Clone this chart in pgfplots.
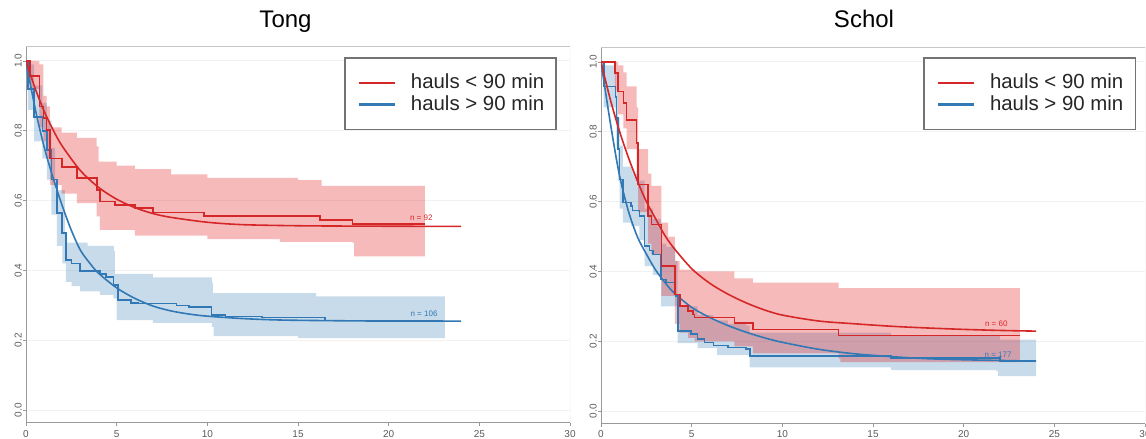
\documentclass[border=0pt]{standalone}
\usepackage{pgfplots}
\pgfplotsset{compat=1.18}
\usepgfplotslibrary{fillbetween}
\usepackage{fontspec}
\setmainfont{Liberation Sans}
\definecolor{kmred}{RGB}{214,39,40}
\definecolor{kmblue}{RGB}{49,120,180}
\definecolor{bandred}{RGB}{228,26,28}
\definecolor{bandblue}{RGB}{55,126,184}
\definecolor{ticktext}{RGB}{90,90,90}

\pgfplotsset{
  kmstyle/.style={
    scale only axis,
    xmin=0, xmax=30, ymin=-0.037, ymax=1.04,
    axis lines*=left,
    axis line style={draw=gray!80, line width=0.5pt},
    xtick={0,5,10,15,20,25,30},
    xticklabels={0,5,10,15,20,25,30},
    ytick={0,0.2,0.4,0.6,0.8,1.0},
    yticklabels={0.0,0.2,0.4,0.6,0.8,1.0},
    tick align=outside,
    major tick length=1.5pt,
    tick style={draw=gray!80, line width=0.4pt},
    ymajorgrids,
    grid style={draw=gray!10, line width=0.5pt},
    ticklabel style={font=\fontsize{5}{6}\selectfont, text=ticktext},
    yticklabel style={rotate=90, anchor=south, inner sep=0.5pt},
    xticklabel style={inner sep=2.3pt},
    legend style={anchor=north east, draw=gray!90!black, line width=0.75pt, fill=white,
      font=\fontsize{10.2}{10.5}\selectfont, text=black!85,
      inner xsep=4pt, inner ysep=6pt, row sep=-2pt, cells={anchor=west}},
    legend image code/.code={\path[draw=none] (0pt,0pt) -- (27pt,0pt); \draw[#1, line width=1.1pt] (3pt,0pt) -- (21pt,0pt);},
    km/.style={const plot mark left, line width=0.8pt, forget plot},
    fit/.style={smooth, line width=0.8pt, forget plot},
  }
}

\begin{document}
\begin{tikzpicture}

% ---------------- Tong ----------------
\begin{axis}[kmstyle, at={(13pt,8pt)}, anchor=south west, width=272pt, height=188pt,
  legend style={at={(0.976,0.973)}}]
\addlegendimage{kmred, line width=1.1pt}
\addlegendentry{hauls < 90 min}
\addlegendimage{kmblue, line width=1.1pt}
\addlegendentry{hauls > 90 min}

% blue band
\addplot[draw=none, name path=tbu, const plot mark left, forget plot] coordinates {
(0,1.0)(0.1,0.99)(0.45,0.93)(0.9,0.88)(1.15,0.83)(1.4,0.75)(1.6,0.63)(2.15,0.48)(3.4,0.47)(4.85,0.455)(4.9,0.39)(7,0.38)(10.25,0.365)(10.3,0.335)(16,0.326)(23.1,0.326)};
\addplot[draw=none, name path=tbl, const plot mark left, forget plot] coordinates {
(0,0.96)(0.1,0.86)(0.45,0.77)(0.9,0.72)(1.15,0.66)(1.4,0.56)(1.7,0.47)(2.0,0.42)(2.2,0.367)(2.52,0.355)(2.98,0.34)(4.08,0.33)(4.82,0.32)(5.0,0.258)(7,0.25)(10.25,0.238)(10.35,0.212)(15,0.206)(23.1,0.203)};
\addplot[bandblue, fill opacity=0.28, forget plot] fill between[of=tbu and tbl];

% blue lines
\addplot[km, kmblue] coordinates {
(0,1.0)(0.1,0.92)(0.45,0.84)(0.9,0.80)(1.15,0.745)(1.4,0.66)(1.7,0.565)(2.0,0.507)(2.2,0.43)(2.52,0.42)(2.98,0.398)(4.08,0.39)(4.4,0.382)(4.82,0.358)(5.09,0.315)(5.8,0.307)(6.2,0.305)(8.3,0.30)(9.0,0.296)(10.24,0.272)(11,0.268)(13,0.265)(16.5,0.257)(20,0.255)(23.0,0.255)};
\addplot[fit, kmblue] coordinates {
(0,1.0)(0.5,0.865)(1,0.754)(1.5,0.664)(2,0.585)(2.5,0.515)(3,0.458)(3.5,0.422)(4,0.392)(5,0.35)(6,0.32)(7,0.298)(8,0.284)(9,0.275)(10,0.269)(12,0.262)(14,0.258)(17,0.256)(20,0.255)(24,0.255)};

% red band
\addplot[draw=none, name path=tru, const plot mark left, forget plot] coordinates {
(0,1.0)(0.74,0.99)(0.96,0.90)(1.14,0.87)(1.32,0.81)(1.97,0.795)(2.8,0.78)(3.9,0.755)(4.0,0.712)(5,0.70)(6,0.69)(8,0.675)(10,0.665)(15,0.659)(16.2,0.659)(16.3,0.642)(22,0.642)};
\addplot[draw=none, name path=trl, const plot mark left, forget plot] coordinates {
(0,0.97)(0.22,0.92)(0.74,0.81)(0.96,0.77)(1.14,0.72)(1.32,0.645)(1.97,0.62)(2.8,0.593)(3.9,0.555)(4.08,0.516)(6,0.50)(10,0.49)(14,0.482)(18,0.48)(18.1,0.44)(22,0.44)};
\addplot[bandred, fill opacity=0.3, forget plot] fill between[of=tru and trl];

% red lines
\addplot[km, kmred] coordinates {
(0,1.0)(0.22,0.957)(0.74,0.869)(0.96,0.836)(1.14,0.802)(1.32,0.721)(1.97,0.697)(2.8,0.664)(3.9,0.630)(4.08,0.597)(4.9,0.587)(6.0,0.578)(7.0,0.566)(9.8,0.556)(16.2,0.544)(18.0,0.533)(22.0,0.533)};
\addplot[fit, kmred] coordinates {
(0,1.0)(0.5,0.922)(1,0.856)(1.5,0.802)(2,0.756)(3,0.686)(4,0.638)(5,0.604)(6,0.580)(7,0.563)(8,0.552)(10,0.538)(12,0.531)(15,0.528)(18,0.527)(24,0.526)};

\node[font=\fontsize{4}{4}\selectfont, text=kmred] at (axis cs:21.8,0.552) {n = 92};
\node[font=\fontsize{4}{4}\selectfont, text=kmblue] at (axis cs:21.95,0.277) {n = 106};
\draw[gray!45, line width=0.5pt] (rel axis cs:0,1) -- (rel axis cs:1,1) -- (rel axis cs:1,0);
\end{axis}

% ---------------- Schol ----------------
\begin{axis}[kmstyle, at={(300.5pt,7.5pt)}, anchor=south west, width=272pt, height=188pt,
  xticklabel style={inner sep=1.4pt},
  legend style={at={(0.9835,0.976)}}]
\addlegendimage{kmred, line width=1.1pt}
\addlegendentry{hauls < 90 min}
\addlegendimage{kmblue, line width=1.1pt}
\addlegendentry{hauls > 90 min}

% blue band
\addplot[draw=none, name path=sbu, const plot mark left, forget plot] coordinates {
(0,1.0)(0.15,0.99)(0.8,0.97)(0.85,0.92)(0.95,0.84)(1.03,0.76)(1.2,0.70)(1.74,0.68)(2.12,0.66)(2.4,0.58)(2.86,0.55)(3.32,0.48)(3.6,0.47)(4.1,0.43)(4.23,0.30)(5.33,0.275)(6.2,0.26)(7,0.25)(8.0,0.245)(8.2,0.225)(16,0.215)(22,0.205)(24,0.205)};
\addplot[draw=none, name path=sbl, const plot mark left, forget plot] coordinates {
(0,0.97)(0.15,0.87)(0.8,0.84)(0.85,0.76)(0.95,0.66)(1.03,0.58)(1.2,0.54)(1.66,0.53)(2.12,0.49)(2.4,0.415)(2.86,0.39)(3.32,0.30)(4.23,0.195)(5.33,0.18)(6.4,0.16)(8.2,0.125)(16,0.117)(21.8,0.114)(21.9,0.10)(24,0.10)};
\addplot[bandblue, fill opacity=0.28, forget plot] fill between[of=sbu and sbl];

% blue lines
\addplot[km, kmblue] coordinates {
(0,1.0)(0.15,0.93)(0.8,0.90)(0.85,0.84)(0.95,0.75)(1.03,0.663)(1.2,0.597)(1.66,0.588)(1.74,0.575)(2.12,0.558)(2.4,0.472)(2.67,0.46)(2.86,0.449)(3.32,0.377)(3.6,0.368)(4.1,0.33)(4.23,0.229)(4.95,0.22)(5.33,0.206)(5.7,0.196)(6.2,0.188)(7.0,0.182)(8.0,0.177)(8.2,0.157)(16.0,0.152)(22.0,0.143)(24,0.143)};
\addplot[fit, kmblue] coordinates {
(0,1.0)(0.5,0.83)(1,0.68)(1.5,0.575)(2,0.50)(2.5,0.45)(3,0.405)(3.5,0.37)(4,0.34)(5,0.297)(6,0.268)(7,0.245)(8,0.226)(9,0.21)(10,0.197)(12,0.177)(14,0.164)(16,0.156)(18,0.15)(20,0.147)(22,0.145)(24,0.143)};

% red band
\addplot[draw=none, name path=sru, const plot mark left, forget plot] coordinates {
(0,1.0)(0.77,1.0)(0.95,0.99)(1.23,0.97)(1.41,0.93)(1.96,0.87)(2.05,0.75)(2.6,0.68)(2.78,0.645)(3.33,0.54)(3.7,0.50)(4.07,0.43)(4.34,0.405)(5.16,0.40)(7.36,0.38)(8.37,0.368)(13.1,0.352)(23.1,0.35)};
\addplot[draw=none, name path=srl, const plot mark left, forget plot] coordinates {
(0,1.0)(0.77,0.92)(0.95,0.85)(1.23,0.81)(1.41,0.75)(1.96,0.68)(2.05,0.57)(2.6,0.48)(2.78,0.45)(3.33,0.33)(4.07,0.25)(4.34,0.225)(4.8,0.21)(5.16,0.2)(7.36,0.185)(8.37,0.165)(13.1,0.15)(13.2,0.14)(23.1,0.14)};
\addplot[bandred, fill opacity=0.3, forget plot] fill between[of=sru and srl];

% red lines
\addplot[km, kmred] coordinates {
(0,1.0)(0.77,0.968)(0.95,0.915)(1.23,0.882)(1.41,0.834)(1.96,0.768)(2.05,0.649)(2.6,0.558)(2.78,0.534)(3.33,0.415)(4.07,0.334)(4.34,0.301)(4.8,0.287)(5.07,0.277)(5.16,0.268)(7.36,0.253)(8.37,0.234)(13.1,0.217)(23.1,0.217)};
\addplot[fit, kmred] coordinates {
(0,1.0)(0.5,0.895)(1,0.805)(1.5,0.728)(2,0.66)(2.5,0.60)(3,0.552)(3.5,0.505)(4,0.468)(5,0.408)(6,0.366)(7,0.335)(8,0.31)(9,0.29)(10,0.275)(12,0.258)(14,0.25)(16,0.243)(18,0.238)(20,0.234)(22,0.231)(24,0.229)};

\node[font=\fontsize{4}{4}\selectfont, text=kmred] at (axis cs:21.8,0.251) {n = 60};
\node[font=\fontsize{4}{4}\selectfont, text=kmblue] at (axis cs:21.9,0.162) {n = 177};
\draw[gray!45, line width=0.5pt] (rel axis cs:0,1) -- (rel axis cs:1,1) -- (rel axis cs:1,0);
\end{axis}

\node[font=\fontsize{12}{12}\selectfont, anchor=base] at (142.75pt,205.5pt) {Tong};
\node[font=\fontsize{12}{12}\selectfont, anchor=base] at (432pt,205.5pt) {Schol};
\pgfresetboundingbox
\useasboundingbox (0,0) rectangle (573pt,219.5pt);
\end{tikzpicture}
\end{document}
